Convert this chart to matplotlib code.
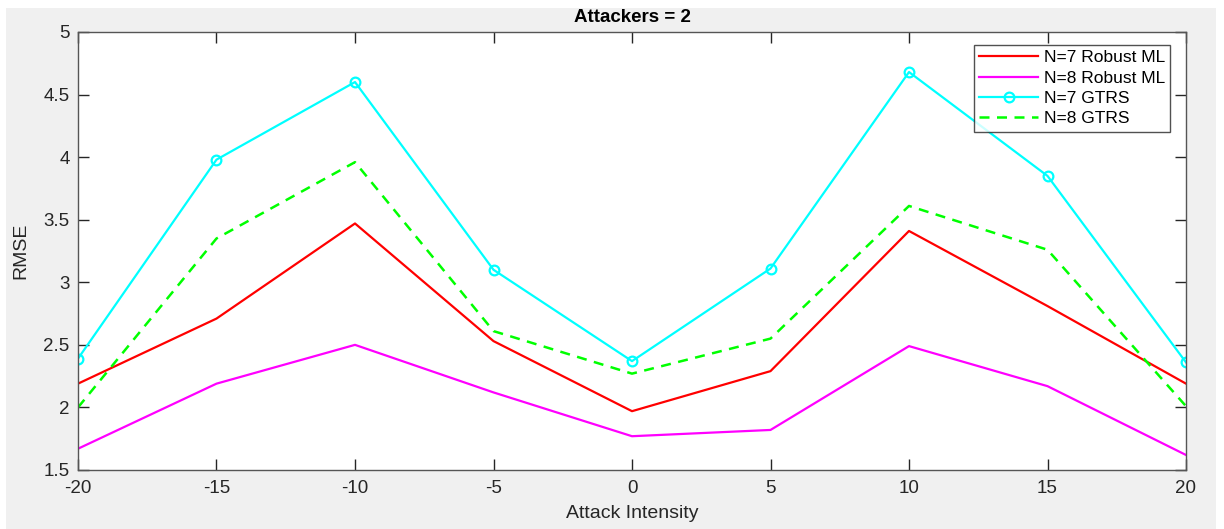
import matplotlib.pyplot as plt
from matplotlib.patches import Rectangle

# attack intensity values on x axis
intensity = [-20, -15, -10, -5, 0, 5, 10, 15, 20]

# RMSE
rmse_n7_robust = [2.19, 2.71, 3.47, 2.53, 1.97, 2.29, 3.41, 2.81, 2.19]
rmse_n8_robust = [1.67, 2.19, 2.50, 2.12, 1.77, 1.82, 2.49, 2.17, 1.62]
rmse_n7_gtrs = [2.39, 3.98, 4.60, 3.10, 2.37, 3.11, 4.68, 3.85, 2.36]
rmse_n8_gtrs = [2.00, 3.35, 3.96, 2.61, 2.27, 2.55, 3.61, 3.26, 2.01]

xticks = [-20, -15, -10, -5, 0, 5, 10, 15, 20]
yticks = [1.5, 2, 2.5, 3, 3.5, 4, 4.5, 5]

plt.rcParams['font.family'] = ['Liberation Sans', 'DejaVu Sans']

fig = plt.figure(figsize=(12.24, 5.29), dpi=100, facecolor='white')
# MATLAB-style grey figure panel
fig.patches.append(Rectangle((6 / 1224, 0), 1210 / 1224, 521 / 529,
                             transform=fig.transFigure, facecolor='#f0f0f0',
                             edgecolor='none', zorder=-10))

ax = fig.add_axes([78 / 1224, 59 / 529, 1108 / 1224, 438 / 529])
ax.set_facecolor('white')

ax.plot(intensity, rmse_n7_robust, color='#ff0000', lw=1.6, label='N=7 Robust ML')
ax.plot(intensity, rmse_n8_robust, color='#ff00ff', lw=1.6, label='N=8 Robust ML')
ax.plot(intensity, rmse_n7_gtrs, color='#00ffff', lw=1.6, marker='o',
        markersize=7, markerfacecolor='none', markeredgewidth=1.6,
        label='N=7 GTRS')
ax.plot(intensity, rmse_n8_gtrs, color='#00ff00', lw=1.8, ls=(0, (4, 3)),
        label='N=8 GTRS')

ax.set_xlim(-20, 20)
ax.set_ylim(1.5, 5)
ax.set_xticks(xticks)
ax.set_yticks(yticks)
ax.set_xticklabels([str(t) for t in xticks])
ax.set_yticklabels([('%g' % t) for t in yticks])

axcol = '#262626'
for s in ax.spines.values():
    s.set_color('#555555')
    s.set_linewidth(1.0)
ax.tick_params(direction='in', length=8, width=1, color=axcol,
               top=True, right=True, labelsize=13.5, labelcolor=axcol)
ax.tick_params(axis='x', pad=7)
ax.tick_params(axis='y', pad=6)

ax.set_title('Attackers = 2', fontsize=13.5, fontweight='bold', color='black',
             pad=7)
ax.set_xlabel('Attack Intensity', fontsize=14, color=axcol, labelpad=6)
ax.set_ylabel('RMSE', fontsize=14, color=axcol, labelpad=10)

leg = ax.legend(loc='upper right', bbox_to_anchor=(1170 / 1224, 484 / 529),
                bbox_transform=fig.transFigure,
                fontsize=12.5, frameon=True, fancybox=False, handlelength=3.4,
                borderpad=0.3, labelspacing=0.3, handletextpad=0.3,
                borderaxespad=0)
leg.get_frame().set_edgecolor('#262626')
leg.get_frame().set_linewidth(1.0)

fig.savefig('out.png', dpi=100, facecolor=fig.get_facecolor())
